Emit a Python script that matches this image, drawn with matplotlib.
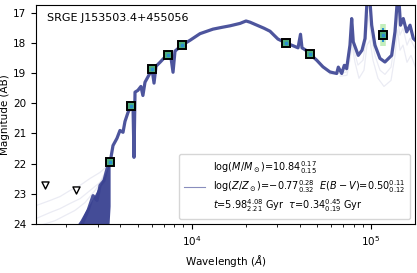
import matplotlib
matplotlib.use('Agg')
import matplotlib.pyplot as plt
import numpy as np

# --- median model spectrum (wavelength in Angstrom, AB mag) ---
wave_med = [2234, 2642, 2818, 2965, 3083, 3243, 3373, 3508, 3640, 3830,
            3981, 4140, 4246, 4415, 4588, 4710, 4767, 4830, 5010, 5210,
            5345, 5490, 5853, 6012, 6165, 6324, 6656, 7010, 7375, 7669,
            7870, 8070, 8830, 9790, 11130, 13150, 14760, 16360, 18610, 20090,
            21150, 23130, 25310, 27350, 28770, 30290, 33570, 36740, 39180, 40450,
            41230, 43380, 45710, 49800, 53960, 59040, 64370, 65740, 68680, 70980,
            73140, 76340, 78050, 79650, 84920, 89130, 92630, 95030, 98650, 100900,
            105200, 112200, 119600, 130400, 136100, 140200, 143300, 146100, 151400, 158200,
            165100, 172200, 180600]
mag_med = [24.55, 23.55, 23.06, 23.22, 22.72, 22.56, 22.16, 21.96, 21.40, 21.16,
           20.90, 20.96, 20.60, 20.30, 20.10, 20.17, 21.79, 19.63, 19.57, 19.44,
           19.74, 19.30, 19.00, 18.87, 19.33, 18.77, 18.64, 18.50, 18.40, 18.50,
           18.97, 18.27, 18.07, 17.91, 17.69, 17.54, 17.48, 17.43, 17.35, 17.27,
           17.31, 17.41, 17.51, 17.61, 17.74, 17.87, 18.00, 18.09, 18.16, 17.71,
           18.16, 18.24, 18.37, 18.57, 18.79, 18.96, 19.01, 18.80, 19.01, 18.74,
           18.85, 18.07, 17.19, 17.96, 18.41, 18.24, 17.85, 16.60, 16.60, 17.41,
           18.07, 18.51, 18.63, 18.41, 17.63, 16.60, 16.60, 17.41, 17.19, 17.63,
           17.41, 17.85, 17.96]

# UV spread of the posterior samples
wave_band = [2264, 2383, 2541, 2710, 2890, 3081, 3238, 3414, 3508]
mag_band_top = [24.07, 23.88, 23.58, 23.31, 23.01, 22.68, 22.42, 22.06, 21.89]
mag_band_bot = [24.60, 24.60, 24.60, 24.60, 24.60, 24.60, 24.60, 24.60, 23.40]

# a few faint individual samples
wave_uv_a = [1355, 1622, 1844, 2095, 2383, 2710, 3081, 3414]
mag_uv_a = [23.39, 23.22, 23.09, 22.89, 22.72, 22.49, 22.29, 22.06]
wave_uv_b = [1355, 1622, 1844, 2095, 2383, 2710, 3081, 3414]
mag_uv_b = [23.82, 23.62, 23.49, 23.32, 23.16, 22.89, 22.62, 22.09]
wave_uv_c = [1426, 1729, 1965, 2234, 2541, 2890, 3285]
mag_uv_c = [24.05, 23.89, 23.72, 23.55, 23.29, 22.89, 22.39]

wave_ir_a = [59079, 72550, 76370, 78340, 80370, 84620, 90250, 93780, 96230, 100000,
             105270, 112250, 119690, 129320, 136140, 139640, 145150, 150850, 158800, 165000,
             178200]
mag_ir_a = [19.04, 18.97, 18.24, 17.57, 18.24, 18.73, 18.57, 17.91, 17.08, 17.74,
            18.41, 18.90, 19.04, 18.80, 17.91, 17.08, 17.74, 17.51, 18.07, 17.84,
            18.24]
wave_ir_b = [67150, 73490, 76370, 78340, 81430, 85720, 91420, 95000, 98720, 102600,
             109400, 118160, 129320, 136140, 140540, 145150, 150850, 158800, 167100, 178200]
mag_ir_b = [19.10, 19.07, 18.54, 18.07, 18.64, 19.17, 18.90, 18.07, 17.91, 18.57,
            19.17, 19.44, 19.24, 18.41, 17.57, 18.24, 18.07, 18.64, 18.41, 18.84]

# --- observed photometry ---
phot_wave = [3508, 4570, 6012, 7375, 8830, 33570, 45710, 116200]
phot_mag = [21.95, 20.08, 18.87, 18.40, 18.07, 18.00, 18.37, 17.74]
phot_err = [0.08, 0.03, 0.02, 0.02, 0.04, 0.04, 0.07, 0.23]
lim_wave = [1528, 2271]
lim_mag = [22.72, 22.86]

navy = '#3a4292'

fig = plt.figure(figsize=(4.17, 2.73), dpi=100)
ax = fig.add_axes([0.0863, 0.1795, 0.9087, 0.8011])

for w, m in [(wave_uv_a, mag_uv_a), (wave_uv_b, mag_uv_b), (wave_uv_c, mag_uv_c),
             (wave_ir_a, mag_ir_a), (wave_ir_b, mag_ir_b)]:
    ax.plot(w, m, color=navy, lw=0.9, alpha=0.1)

ax.fill_between(wave_band, mag_band_top, mag_band_bot, color=navy, alpha=0.95, lw=0)
ax.plot(wave_med, mag_med, color=navy, lw=2.3, alpha=0.9, solid_joinstyle='round')

# model photometry spread (light green) and data
ax.errorbar(phot_wave, phot_mag, yerr=np.array(phot_err) * 1.6, fmt='none',
            ecolor='#9be38f', elinewidth=4, alpha=0.6)
ax.errorbar(phot_wave, phot_mag, yerr=phot_err, fmt='s', ms=6, mfc='#4fae7c',
            mec='k', mew=1.4, ecolor='#2a8fd0', elinewidth=1.5, zorder=5)
ax.scatter(phot_wave, phot_mag, marker='s', s=4, color='#2a8fd0', zorder=6)
ax.scatter(lim_wave, lim_mag, marker='v', s=26, facecolor='white',
           edgecolor='k', lw=1.0, zorder=5)

label = ('$\\log(M/M_\\odot)$=10.84$^{0.17}_{0.15}$\n'
         '$\\log(Z/Z_\\odot)$=$-$0.77$^{0.28}_{0.32}$  $E(B-V)$=0.50$^{0.11}_{0.12}$\n'
         '$t$=5.98$^{4.08}_{2.21}$ Gyr  $\\tau$=0.34$^{0.45}_{0.19}$ Gyr')
ax.plot([], [], color=navy, lw=0.8, alpha=0.6, label=label)
leg = ax.legend(loc='lower right', fontsize=7, handlelength=2.2,
                borderpad=0.5, labelspacing=0.3)
for t in leg.get_texts():
    t.set_linespacing(1.2)

ax.text(0.03, 0.965, 'SRGE J153503.4+455056', transform=ax.transAxes,
        fontsize=8, va='top', ha='left')

ax.set_xscale('log')
ax.set_xlim(1354, 175800)
ax.set_ylim(24, 16.75)
ax.set_yticks([17, 18, 19, 20, 21, 22, 23, 24])
ax.tick_params(labelsize=7.5)
ax.set_xlabel('Wavelength ($\\AA$)', fontsize=7.5)
ax.set_ylabel('Magnitude (AB)', fontsize=7.5, labelpad=2)

fig.savefig('out.png', dpi=100)
